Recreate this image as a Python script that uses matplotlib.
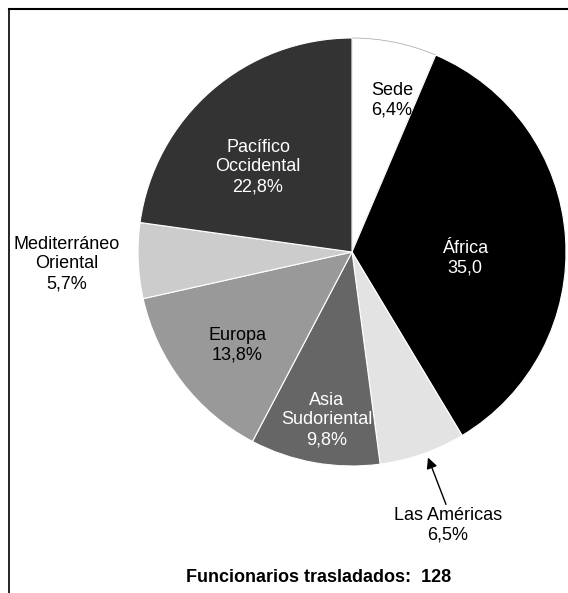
import matplotlib
matplotlib.use('Agg')
import matplotlib.pyplot as plt
from matplotlib.lines import Line2D

plt.rcParams['font.family'] = ['Liberation Sans', 'DejaVu Sans']

regiones = ['Sede', 'África', 'Las Américas', 'Asia\nSudoriental', 'Europa',
            'Mediterráneo\nOriental', 'Pacífico\nOccidental']
porcentajes = [6.4, 35.0, 6.5, 9.8, 13.8, 5.7, 22.8]
etiquetas = ['Sede\n6,4%', 'África\n35,0', 'Las Américas\n6,5%', 'Asia\nSudoriental\n9,8%',
             'Europa\n13,8%', 'Mediterráneo\nOriental\n5,7%', 'Pacífico\nOccidental\n22,8%']
colores = ['#ffffff', '#000000', '#e3e3e3', '#666666', '#999999', '#cccccc', '#333333']
color_texto = ['black', 'white', 'black', 'white', 'black', 'black', 'white']
total = 128

W, H = 568, 593
fig = plt.figure(figsize=(W / 100, H / 100), dpi=100)

# pie centre (352, 252) px, radius 214 px
cx, cy, r = 352, 252, 214
ax = fig.add_axes([(cx - r) / W, (H - cy - r) / H, 2 * r / W, 2 * r / H])
wedges, _ = ax.pie(porcentajes, colors=colores, startangle=90, counterclock=False,
                   radius=1, wedgeprops=dict(edgecolor='white', linewidth=0.8))
wedges[0].set_edgecolor('#b0b0b0')
wedges[0].set_linewidth(0.6)
ax.set_xlim(-1, 1)
ax.set_ylim(-1, 1)
ax.set_aspect('equal')
ax.axis('off')

# label positions in pixels (x, y from top)
pos = [(392, 100), (465, 258), (448, 525), (327, 420), (237, 345), (67, 264), (258, 167)]
for et, (px, py), c in zip(etiquetas, pos, color_texto):
    fig.text(px / W, 1 - py / H, et, ha='center', va='center', fontsize=13,
             color=c, linespacing=1.22)

# arrow to Las Américas
fig.add_artist(matplotlib.patches.FancyArrowPatch(
    (447 / W, 1 - 507 / H), (427 / W, 1 - 455 / H), transform=fig.transFigure,
    arrowstyle='-|>', mutation_scale=16, color='black', linewidth=1.0))

fig.text(319 / W, 1 - 577 / H, f'Funcionarios trasladados:  {total}',
         ha='center', va='center', fontsize=13, fontweight='bold')

# frame lines (top and left)
fig.add_artist(Line2D([9 / W, 1], [1 - 9 / H, 1 - 9 / H], color='black', linewidth=1.5,
                      transform=fig.transFigure))
fig.add_artist(Line2D([9 / W, 9 / W], [1 - 9 / H, 0], color='black', linewidth=1.2,
                      transform=fig.transFigure))

fig.savefig('out.png', dpi=100)
